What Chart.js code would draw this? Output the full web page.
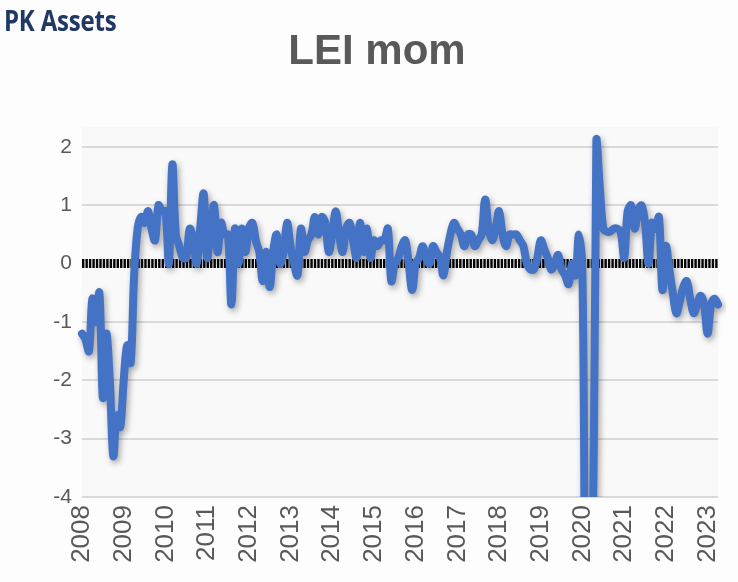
<!DOCTYPE html>
<html><head><meta charset="utf-8">
<script src="https://cdn.jsdelivr.net/npm/chart.js@4.4.0/dist/chart.umd.min.js"></script>
<style>
html,body{margin:0;padding:0;background:#fdfdfd;}
#wrap{position:relative;width:738px;height:582px;overflow:hidden;}
#logo{position:absolute;left:4px;top:-1px;font-family:'Open Sans',sans-serif;font-weight:700;font-size:24px;color:#203864;letter-spacing:-0.2px;transform-origin:left top;transform:scaleY(1.22);white-space:nowrap;}
#title{position:absolute;left:0;width:754px;top:26px;text-align:center;font-family:'Liberation Sans',Arial,sans-serif;font-weight:700;font-size:42px;line-height:48px;color:#595959;}
</style></head><body>
<div id="wrap"><canvas id="c" width="738" height="582"></canvas><div id="logo">PK Assets</div><div id="title">LEI mom</div></div>
<script>
// Monthly LEI change (%)
const years = [2008,2009,2010,2011,2012,2013,2014,2015,2016,2017,2018,2019,2020,2021,2022,2023];
const lei2008 = [-1.2,-1.3,-1.5,-0.6,-1.0,-0.5,-2.3,-1.2,-2.0,-3.3,-2.6,-2.8];
const lei2009 = [-2.0,-1.4,-1.7,-0.2,0.6,0.8,0.7,0.9,0.6,0.4,1.0,0.9];
const lei2010 = [0.9,0.0,1.7,0.5,0.3,0.1,0.1,0.6,0.4,0.0,0.6,1.2];
const lei2011 = [0.1,0.6,1.0,0.2,0.7,0.5,0.5,-0.7,0.6,0.0,0.6,0.2];
const lei2012 = [0.6,0.7,0.4,0.2,-0.3,0.2,-0.4,0.2,0.5,0.0,0.2,0.7];
const lei2013 = [0.3,0.0,-0.2,0.6,0.2,0.4,0.5,0.8,0.5,0.8,0.7,0.2];
const lei2014 = [0.5,0.9,0.5,0.2,0.6,0.7,0.4,0.1,0.7,0.2,0.6,0.1];
const lei2015 = [0.4,0.3,0.4,0.4,0.6,-0.3,0.0,0.1,0.3,0.4,0.0,-0.45];
const lei2016 = [0.0,0.1,0.3,0.1,0.0,0.3,0.2,0.1,-0.2,0.2,0.5,0.7];
const lei2017 = [0.6,0.5,0.3,0.5,0.5,0.3,0.4,0.5,1.1,0.6,0.4,0.6];
const lei2018 = [0.9,0.5,0.3,0.5,0.5,0.5,0.4,0.3,0.0,-0.1,-0.1,0.1];
const lei2019 = [0.4,0.25,0.1,-0.1,0.0,0.15,-0.1,-0.2,-0.35,0.0,-0.2,0.5];
const lei2020 = [-0.2,-6.5,-5.5,-4.5,2.1,1.3,0.6,0.55,0.55,0.6,0.6,0.55];
const lei2021 = [0.1,0.9,1.0,0.6,0.9,1.0,0.7,0.0,0.7,0.6,0.8,-0.45];
const lei2022 = [0.3,-0.1,-0.5,-0.85,-0.65,-0.4,-0.3,-0.6,-0.85,-0.7,-0.55,-0.7];
const lei2023 = [-1.2,-0.7,-0.6,-0.7];
const yTicks = [2,1,0,-1,-2,-3,-4];

const byYear = [lei2008,lei2009,lei2010,lei2011,lei2012,lei2013,lei2014,lei2015,lei2016,lei2017,lei2018,lei2019,lei2020,lei2021,lei2022,lei2023];
const categories = [];
const values = [];
byYear.forEach((arr, k) => arr.forEach((v, m) => { categories.push(years[k] + '-' + String(m + 1).padStart(2, '0')); values.push(v); }));

const bgPlugin = {
  id: 'bg',
  beforeDraw(chart) {
    const {ctx, chartArea: a} = chart;
    ctx.save();
    ctx.fillStyle = '#fdfdfd';
    ctx.fillRect(0, 0, chart.width, chart.height);
    ctx.fillStyle = '#f9f9f9';
    ctx.fillRect(a.left, a.top - 20, a.right - a.left, a.bottom - a.top + 20);
    ctx.restore();
  }
};
const shadowPlugin = {
  id: 'shadow',
  beforeDatasetDraw(chart) {
    const ctx = chart.ctx;
    ctx.save();
    ctx.shadowColor = 'rgba(0,0,0,0.35)';
    ctx.shadowBlur = 6;
    ctx.shadowOffsetX = 2;
    ctx.shadowOffsetY = 3;
  },
  afterDatasetDraw(chart) { chart.ctx.restore(); }
};

new Chart(document.getElementById('c'), {
  type: 'line',
  data: {
    labels: categories,
    datasets: [{
      label: 'LEI mom',
      data: values,
      borderColor: '#4472C4',
      borderWidth: 8,
      borderCapStyle: 'round',
      borderJoinStyle: 'round',
      pointRadius: 0,
      tension: 0.35,
      fill: false,
      clip: {left: 8, right: 8, top: 14, bottom: 0}
    }]
  },
  options: {
    responsive: false,
    animation: false,
    devicePixelRatio: 1,
    layout: {padding: {left: 0, right: 20, top: 147, bottom: 0}},
    plugins: {
      legend: {display: false},
      tooltip: {enabled: false},
      title: {display: false}
    },
    scales: {
      x: {
        type: 'category',
        grid: {display: false, drawTicks: false},
        border: {display: false},
        ticks: {
          autoSkip: false,
          maxRotation: 90,
          minRotation: 90,
          padding: 8,
          color: '#595959',
          font: {family: "'Liberation Sans', Arial, sans-serif", size: 26},
          callback: function(val) {
            const lab = this.getLabelForValue(val);
            return lab.endsWith('-01') ? lab.slice(0, 4) : '';
          }
        },
        afterFit: s => { s.height = 85; s.paddingRight = 0; s.paddingLeft = 0; }
      },
      y: {
        min: -4,
        max: 2,
        afterBuildTicks: s => { s.ticks = yTicks.map(v => ({value: v})); },
        grid: {
          drawTicks: false,
          color: ctx => ctx.tick && ctx.tick.value === 0 ? '#000000' : '#d9d9d9',
          lineWidth: ctx => ctx.tick && ctx.tick.value === 0 ? 9 : 2
        },
        border: {
          display: false,
          dash: ctx => ctx.tick && ctx.tick.value === 0 ? [2.4, 1.06] : []
        },
        ticks: {
          padding: 10,
          color: '#595959',
          font: {family: "'Liberation Sans', Arial, sans-serif", size: 21}
        },
        afterFit: s => { s.width = 82; s.paddingTop = 0; }
      }
    }
  },
  plugins: [bgPlugin, shadowPlugin]
});
</script>
</body></html>
